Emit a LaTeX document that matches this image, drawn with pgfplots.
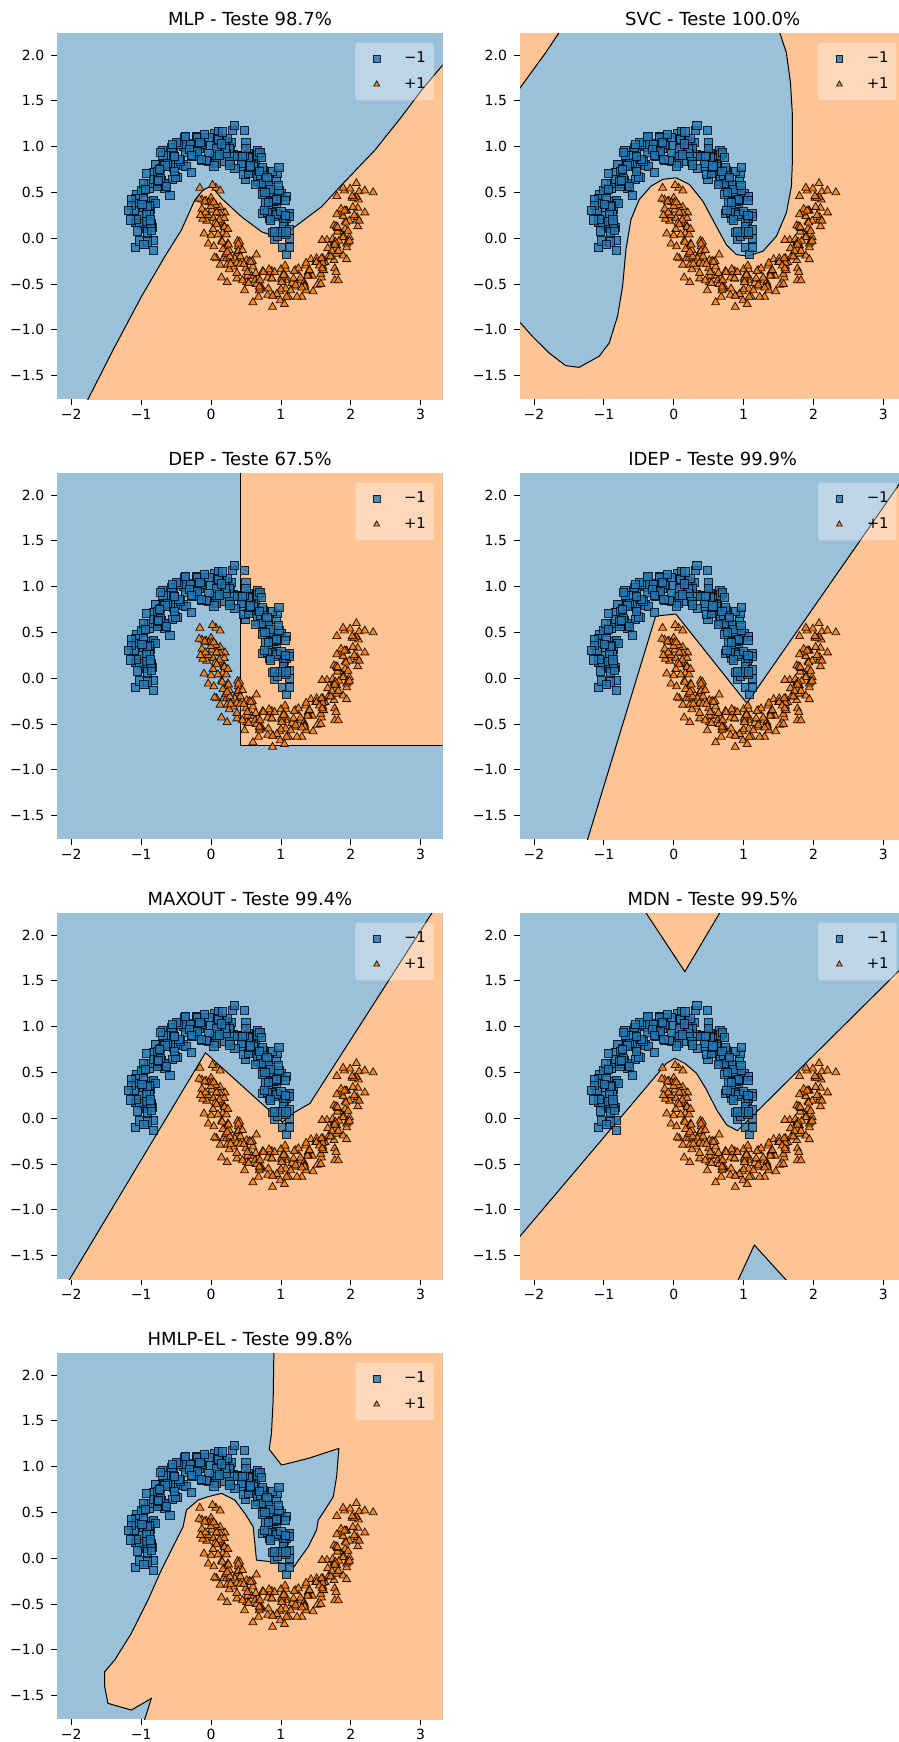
\documentclass[border=0pt]{standalone}
\usepackage{fontspec}
\setmainfont{DejaVu Sans}
\usepackage{pgfplots}
\usepackage{pgfplotstable}
\pgfplotsset{compat=1.18}
\usepgfplotslibrary{groupplots}

\definecolor{bgblue}{RGB}{155,192,218}
\definecolor{bgorange}{RGB}{254,196,148}
\definecolor{tabblue}{RGB}{31,119,180}
\definecolor{taborange}{RGB}{255,127,14}

% class -1 (upper moon)
\pgfplotstableread{
x y
1.05 0.20
0.91 -0.01
0.88 0.06
1.03 0.18
1.07 0.22
1.12 0.00
0.95 0.02
0.93 0.38
1.12 0.27
0.83 0.22
0.89 0.40
1.03 0.13
0.95 0.27
0.94 0.41
0.74 0.27
0.82 0.31
1.01 0.49
1.07 0.46
0.79 0.50
0.86 0.28
0.88 0.44
0.94 0.64
0.95 0.71
0.66 0.62
0.74 0.57
0.83 0.49
0.62 0.75
0.88 0.73
0.80 0.56
0.67 0.66
0.69 0.93
0.58 0.88
0.55 0.75
0.71 0.69
0.78 0.64
0.63 0.80
0.55 0.90
0.49 0.64
0.61 0.78
0.66 0.96
0.32 0.91
0.44 0.79
0.47 0.70
0.53 0.93
0.50 1.04
0.25 1.05
0.27 0.99
0.53 0.89
0.17 0.84
0.27 0.82
0.29 1.05
0.08 1.04
0.20 0.95
0.26 0.98
0.05 1.14
0.06 0.89
0.22 0.93
0.11 1.17
-0.01 1.01
-0.17 0.98
0.07 0.82
0.09 1.09
-0.21 1.11
-0.03 0.84
0.07 0.90
-0.25 1.03
-0.19 1.01
-0.10 1.10
-0.38 1.10
-0.26 0.91
-0.20 0.91
-0.13 0.85
-0.40 0.80
-0.40 1.00
-0.35 0.99
-0.37 0.94
-0.63 0.90
-0.61 0.82
-0.36 0.78
-0.37 1.02
-0.47 1.02
-0.61 0.81
-0.69 0.80
-0.54 0.92
-0.53 0.88
-0.48 0.66
-0.68 0.60
-0.70 0.96
-0.54 0.77
-0.83 0.72
-0.80 0.81
-0.66 0.54
-0.75 0.59
-0.76 0.73
-0.97 0.50
-0.89 0.54
-0.71 0.63
-0.65 0.60
-0.94 0.54
-0.87 0.32
-0.85 0.40
-0.79 0.60
-0.77 0.57
-1.06 0.48
-0.97 0.34
-0.88 0.26
-1.08 0.43
-0.82 0.41
-0.89 0.15
-1.02 0.25
-0.97 0.43
-1.08 0.38
-1.08 0.17
-0.92 0.11
-0.82 -0.02
-0.97 0.14
-1.02 0.16
-1.08 -0.10
-0.91 -0.04
-0.86 0.14
1.06 0.04
1.02 -0.10
0.91 0.24
1.12 0.09
0.93 0.26
1.06 0.41
0.81 0.28
1.12 0.24
0.89 0.50
0.73 0.48
0.93 0.42
0.75 0.74
0.82 0.59
0.56 0.74
0.85 0.53
0.74 0.77
0.53 0.88
0.69 0.73
0.54 0.71
0.67 0.91
0.41 0.90
0.44 0.82
0.20 1.06
0.44 0.90
0.19 1.06
0.26 0.84
0.31 1.18
0.08 0.98
-0.06 0.85
0.10 1.08
-0.03 0.93
-0.18 1.03
0.04 0.79
-0.20 1.10
-0.14 1.02
-0.44 0.84
-0.29 1.02
-0.26 0.89
-0.49 1.05
-0.59 0.81
-0.46 0.86
-0.55 0.64
-0.69 0.90
-0.51 0.67
-0.73 0.76
-0.63 0.82
-0.89 0.60
-0.59 0.47
-0.83 0.64
-1.00 0.52
-0.80 0.38
-0.97 0.60
-0.89 0.36
-1.14 0.42
-0.84 0.12
-0.92 0.27
-1.10 0.30
-0.91 0.07
-1.03 -0.03
-0.85 0.09
0.99 0.07
0.85 0.20
1.07 0.07
0.91 0.07
1.00 0.29
0.76 0.30
1.06 0.25
0.97 0.52
0.78 0.39
0.96 0.58
0.82 0.39
0.97 0.77
0.72 0.60
0.77 0.50
0.55 0.77
0.80 0.66
0.56 0.79
0.64 0.59
0.70 0.94
0.47 0.90
0.34 0.76
0.50 0.98
0.38 0.89
0.23 1.09
0.45 0.89
0.21 0.98
0.27 0.80
-0.03 1.10
0.12 0.91
0.15 1.03
-0.09 1.13
-0.19 0.95
-0.07 0.85
-0.16 1.05
-0.31 0.97
-0.14 0.86
-0.37 1.11
-0.28 0.90
-0.56 0.99
-0.28 0.72
-0.53 0.89
-0.72 0.94
-0.53 0.73
-0.72 0.65
-0.66 0.79
-0.93 0.71
-0.64 0.57
-0.74 0.75
-0.94 0.53
-0.77 0.62
-0.91 0.35
-0.75 0.63
-0.99 0.37
-0.93 0.18
-1.14 0.36
-0.86 0.16
-1.07 0.21
-0.96 -0.07
-0.87 0.20
-1.05 0.08
0.33 1.23
0.48 1.18
0.16 1.16
-1.18 0.30
-1.15 0.20
-0.82 -0.13
1.08 -0.18
1.12 -0.10
-0.55 1.02
0.72 0.88
}\moonneg

% class +1 (lower moon)
\pgfplotstableread{
x y
-0.07 0.41
-0.13 0.42
0.01 0.31
0.20 0.28
-0.17 0.43
0.00 0.44
0.13 0.34
-0.13 0.32
-0.06 0.19
0.11 0.17
0.07 0.36
-0.03 0.39
0.19 0.13
0.09 0.15
0.03 0.22
-0.12 0.21
-0.04 -0.06
0.22 -0.09
0.19 0.22
0.17 0.06
0.15 -0.03
0.03 0.10
0.08 -0.22
0.26 -0.13
0.38 -0.03
0.18 -0.22
0.22 -0.22
0.39 -0.09
0.37 -0.16
0.21 -0.17
0.15 -0.43
0.32 -0.31
0.39 -0.14
0.17 -0.12
0.51 -0.24
0.50 -0.33
0.37 -0.44
0.34 -0.22
0.37 -0.27
0.51 -0.48
0.58 -0.41
0.65 -0.18
0.59 -0.25
0.52 -0.41
0.54 -0.49
0.48 -0.57
0.81 -0.43
0.74 -0.36
0.68 -0.64
0.72 -0.53
0.87 -0.36
0.67 -0.44
0.69 -0.57
0.99 -0.68
1.07 -0.46
0.85 -0.37
0.91 -0.37
1.01 -0.45
0.82 -0.55
0.81 -0.62
1.11 -0.64
1.07 -0.42
1.01 -0.43
1.20 -0.53
1.16 -0.49
1.07 -0.34
0.98 -0.58
1.07 -0.55
1.35 -0.30
1.29 -0.46
1.33 -0.48
1.30 -0.64
1.21 -0.35
1.25 -0.33
1.46 -0.58
1.52 -0.51
1.40 -0.36
1.39 -0.37
1.63 -0.26
1.58 -0.25
1.45 -0.41
1.39 -0.40
1.58 -0.43
1.77 -0.46
1.43 -0.23
1.60 -0.22
1.76 -0.24
1.50 -0.26
1.60 -0.31
1.77 -0.33
1.76 -0.05
1.66 -0.02
1.89 -0.19
1.79 -0.17
1.74 -0.01
1.59 -0.02
1.68 -0.20
1.94 -0.23
1.92 0.18
1.90 0.02
1.88 0.01
1.76 0.14
1.80 -0.08
1.98 0.01
2.09 0.20
1.89 0.01
1.92 0.10
2.09 0.23
2.05 0.25
1.89 0.24
1.81 0.07
1.98 0.19
2.02 0.44
1.80 0.46
2.11 0.42
2.10 0.33
1.94 0.30
1.91 0.52
1.89 0.55
2.03 0.34
0.07 0.55
0.00 0.35
-0.09 0.40
0.19 0.12
0.01 0.39
0.13 0.27
-0.10 0.05
0.12 0.20
0.22 0.04
0.06 0.17
0.04 -0.09
0.24 -0.06
0.23 -0.29
0.16 -0.04
0.42 -0.28
0.27 -0.20
0.45 -0.13
0.26 -0.34
0.63 -0.46
0.47 -0.28
0.37 -0.38
0.65 -0.50
0.55 -0.25
0.70 -0.46
0.52 -0.37
0.89 -0.63
0.87 -0.44
0.75 -0.37
1.00 -0.56
0.94 -0.61
1.18 -0.44
1.01 -0.48
1.14 -0.57
1.00 -0.34
1.34 -0.51
1.19 -0.36
1.36 -0.57
1.51 -0.22
1.38 -0.41
1.34 -0.53
1.59 -0.27
1.57 -0.39
1.51 -0.26
1.82 -0.46
1.67 -0.11
1.82 -0.14
1.60 -0.27
1.83 -0.03
1.94 -0.10
1.79 0.13
1.77 -0.05
1.96 0.08
1.94 -0.06
1.86 0.28
2.10 0.13
1.93 0.30
2.08 0.45
1.86 0.32
2.20 0.28
1.99 0.54
-0.16 0.55
0.04 0.39
0.13 0.52
-0.04 0.25
-0.08 0.28
0.10 0.04
0.08 0.28
0.00 0.03
0.24 0.10
0.08 0.15
0.25 -0.07
0.05 -0.21
0.41 -0.04
0.23 -0.15
0.13 -0.29
0.39 -0.06
0.28 -0.28
0.42 -0.20
0.23 -0.48
0.60 -0.31
0.57 -0.26
0.45 -0.46
0.70 -0.53
0.64 -0.38
0.87 -0.44
0.70 -0.55
0.83 -0.34
0.69 -0.53
1.03 -0.40
0.88 -0.63
1.06 -0.30
1.21 -0.51
1.08 -0.64
1.04 -0.40
1.30 -0.54
1.28 -0.43
1.23 -0.64
1.55 -0.30
1.41 -0.35
1.57 -0.50
1.36 -0.27
1.61 -0.35
1.73 -0.14
1.59 -0.33
1.58 -0.22
1.79 -0.37
1.78 -0.04
1.71 -0.20
1.96 -0.04
1.81 0.11
1.98 -0.03
1.77 -0.07
2.12 0.19
1.93 0.17
1.81 0.12
2.05 0.44
1.91 0.30
2.02 0.46
1.80 0.26
2.12 0.51
2.32 0.50
2.20 0.52
2.08 0.60
0.88 -0.75
1.05 -0.72
-0.15 0.25
0.02 0.58
0.60 -0.70
}\moonpos

\pgfplotsset{
  region/.style={forget plot, draw=black, line width=0.5pt},
  negpts/.style={only marks, mark=square*, mark size=2.05pt,
    mark options={fill=tabblue, draw=black, line width=0.4pt, fill opacity=0.8, draw opacity=0.8}},
  pospts/.style={only marks, mark=triangle*, mark size=2.3pt,
    mark options={fill=taborange, draw=black, line width=0.4pt, fill opacity=0.85, draw opacity=0.85}},
}

\newcommand{\moons}{%
  \addplot[negpts] table {\moonneg};
  \addlegendentry{−1}
  \addplot[pospts] table {\moonpos};
  \addlegendentry{+1}
}

\begin{document}
\begin{tikzpicture}
\begin{groupplot}[
  group style={group size=2 by 4, horizontal sep=38.65pt, vertical sep=37pt},
  scale only axis, width=192.7pt, height=183pt,
  xmin=-2.2, xmax=3.315, ymin=-1.758, ymax=2.237,
  axis background/.style={fill=bgblue},
  axis line style={draw=none},
  tick align=outside, xtick pos=left, ytick pos=left,
  major tick length=3pt,
  tick style={black, line width=0.4pt},
  xtick={-2,-1,0,1,2,3}, xticklabels={−2,−1,0,1,2,3},
  ytick={-1.5,-1,-0.5,0,0.5,1,1.5,2},
  yticklabels={−1.5,−1.0,−0.5,0.0,0.5,1.0,1.5,2.0},
  ticklabel style={font=\fontsize{7}{8.4}\selectfont},
  xticklabel style={inner sep=1pt, yshift=-0.8pt},
  every axis title shift=0pt,
  title style={font=\fontsize{9}{11}\selectfont},
  legend style={at={(1,1)}, anchor=north east, xshift=-4.2pt, yshift=-4.5pt,
    fill=white, fill opacity=0.35, text opacity=1, draw=none, rounded corners=1.5pt,
    font=\fontsize{7.4}{8.9}\selectfont, inner xsep=2pt, inner ysep=2.5pt, row sep=2pt},
  legend cell align=left,
  legend image code/.code={\path (0pt,0pt) (20pt,0pt); \draw[#1,mark size=1.7pt] plot coordinates {(8.5pt,0pt)};},
]

\nextgroupplot[title={MLP - Teste 98.7\%}]
\addplot[region, fill=bgorange] coordinates {(-1.80,-1.84) (-1.761,-1.758) (-1.403,-1.221) (-0.997,-0.638) (-0.663,-0.202) (-0.424,0.090) (-0.233,0.417) (-0.114,0.526) (0.006,0.570) (0.149,0.435) (0.436,0.235) (0.722,0.071) (0.98,0.00) (1.200,0.126) (1.582,0.344) (1.868,0.581) (2.346,0.963) (2.728,1.327) (3.014,1.618) (3.315,1.891) (3.40,1.96) (4,1.96) (4,-3) (-1.80,-3) (-1.80,-1.84)};
\moons

\nextgroupplot[title={SVC - Teste 100.0\%}, axis background/.style={fill=bgorange}]
\addplot[region, fill=bgblue] coordinates {(-2.30,1.55) (-2.215,1.625) (-2.024,1.825) (-1.833,2.025) (-1.641,2.244) (-1.60,2.30) (-1.60,3) (1.50,3) (1.50,2.30) (1.517,2.244) (1.612,2.025) (1.670,1.698) (1.699,1.334) (1.699,0.860) (1.684,0.569) (1.612,0.277) (1.469,0.022) (1.278,-0.141) (1.062,-0.196) (0.895,-0.178) (0.751,-0.069) (0.608,0.132) (0.416,0.405) (0.225,0.587) (0.033,0.660) (-0.158,0.642) (-0.325,0.569) (-0.493,0.423) (-0.612,0.205) (-0.684,-0.123) (-0.732,-0.524) (-0.804,-0.851) (-0.923,-1.143) (-1.067,-1.288) (-1.354,-1.409) (-1.545,-1.391) (-1.785,-1.252) (-2.024,-1.070) (-2.215,-0.906) (-2.30,-0.84) (-3,-0.84) (-3,1.55) (-2.30,1.55)};
\moons

\nextgroupplot[title={DEP - Teste 67.5\%}]
\addplot[region, fill=bgorange] coordinates {(0.416,3) (0.416,-0.729) (4,-0.729) (4,3) (0.416,3)};
\moons

\nextgroupplot[title={IDEP - Teste 99.9\%}]
\addplot[region, fill=bgorange] coordinates {(-1.269,-1.85) (-0.258,0.679) (0.030,0.701) (1.047,-0.274) (3.393,2.30) (4,2.30) (4,-3) (-1.269,-3) (-1.269,-1.85)};
\moons

\nextgroupplot[title={MAXOUT - Teste 99.4\%}]
\addplot[region, fill=bgorange] coordinates {(-2.096,-1.85) (-0.080,0.715) (1.023,-0.045) (1.128,0.035) (1.415,0.162) (3.211,2.30) (4,2.30) (4,-3) (-2.096,-3) (-2.096,-1.85)};
\moons

\nextgroupplot[title={MDN - Teste 99.5\%}]
\addplot[region, fill=bgorange] coordinates {(-2.35,-1.424) (-0.105,0.599) (0.015,0.654) (0.159,0.599) (0.327,0.490) (0.471,0.308) (0.615,0.090) (0.759,-0.074) (0.913,-0.136) (3.40,1.743) (4,1.743) (4,-3) (-2.35,-3) (-2.35,-1.424)};
\addplot[region, fill=bgblue] coordinates {(0.871,-1.85) (1.153,-1.384) (1.709,-1.85) (0.871,-1.85)};
\addplot[region, fill=bgorange] coordinates {(-0.448,2.30) (0.159,1.600) (0.703,2.30) (-0.448,2.30)};
\moons

\nextgroupplot[title={HMLP-EL - Teste 99.8\%}]
\addplot[region, fill=bgorange] coordinates {(0.899,2.30) (0.899,2.237) (0.889,1.727) (0.865,1.363) (0.832,1.189) (1.009,1.017) (1.391,1.090) (1.830,1.199) (1.797,0.890) (1.749,0.672) (1.629,0.526) (1.534,0.417) (1.510,0.308) (1.391,0.126) (1.271,-0.001) (1.190,-0.092) (1.056,-0.056) (0.650,-0.020) (0.627,0.162) (0.603,0.344) (0.483,0.490) (0.340,0.635) (0.149,0.708) (-0.042,0.672) (-0.185,0.635) (-0.352,0.526) (-0.400,0.344) (-0.520,0.162) (-0.711,-0.129) (-0.902,-0.456) (-1.140,-0.820) (-1.379,-1.111) (-1.522,-1.239) (-1.522,-1.402) (-1.475,-1.584) (-1.140,-1.657) (-0.854,-1.530) (-0.987,-1.85) (-0.987,-3) (4,-3) (4,3) (0.899,3) (0.899,2.30)};
\moons

\end{groupplot}
\pgfresetboundingbox
\useasboundingbox ([shift={(-28.65pt,16.65pt)}]group c1r1.north west) rectangle ([shift={(420.85pt,-854.35pt)}]group c1r1.north west);
\end{tikzpicture}
\end{document}
